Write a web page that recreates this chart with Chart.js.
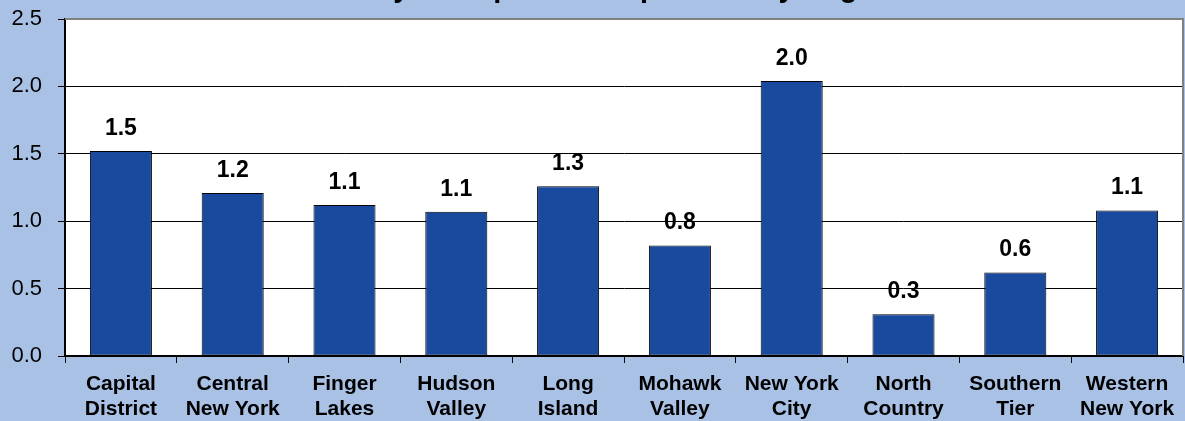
<!DOCTYPE html>
<html>
<head>
<meta charset="utf-8">
<script src="https://cdn.jsdelivr.net/npm/chart.js@4.4.1/dist/chart.umd.min.js"></script>
<style>
  html, body { margin: 0; padding: 0; background: #A9C1E5; overflow: hidden; }
  #wrap { position: relative; width: 1185px; height: 421px; }
</style>
</head>
<body>
<div id="wrap"><canvas id="c" width="1185" height="421"></canvas></div>
<script>
const chartTitle = "Industry Jobs per 100 Population by Region";
const categories = [
  ["Capital", "District"],
  ["Central", "New York"],
  ["Finger", "Lakes"],
  ["Hudson", "Valley"],
  ["Long", "Island"],
  ["Mohawk", "Valley"],
  ["New York", "City"],
  ["North", "Country"],
  ["Southern", "Tier"],
  ["Western", "New York"]
];
const values = [1.52, 1.21, 1.12, 1.07, 1.26, 0.82, 2.04, 0.31, 0.62, 1.08];
const yTicks = [0, 0.5, 1.0, 1.5, 2.0, 2.5];

const bgPlugin = {
  id: 'bg',
  beforeDraw(chart) {
    const { ctx, chartArea: a } = chart;
    ctx.save();
    ctx.fillStyle = '#A9C1E5';
    ctx.fillRect(0, 0, chart.width, chart.height);
    ctx.fillStyle = '#FFFFFF';
    ctx.fillRect(a.left, a.top, a.right - a.left, a.bottom - a.top);
    ctx.restore();
  },
  afterDatasetsDraw(chart) {
    const { ctx, chartArea: a } = chart;
    ctx.save();
    ctx.strokeStyle = '#808080';
    ctx.lineWidth = 2;
    ctx.beginPath();
    ctx.moveTo(a.left, a.top);
    ctx.lineTo(a.right, a.top);
    ctx.lineTo(a.right, a.bottom);
    ctx.stroke();
    // data labels
    const meta = chart.getDatasetMeta(0);
    ctx.fillStyle = '#000';
    ctx.font = 'bold 23px "Liberation Sans", Arial, sans-serif';
    ctx.textAlign = 'center';
    ctx.textBaseline = 'alphabetic';
    meta.data.forEach((bar, i) => {
      ctx.fillText(values[i].toFixed(1), bar.x, bar.y - 16);
    });
    // title (clipped at top, as in the original)
    ctx.font = 'bold 29px "Liberation Sans", Arial, sans-serif';
    ctx.fillText(chartTitle, 598, -3);
    ctx.restore();
  }
};

new Chart(document.getElementById('c'), {
  type: 'bar',
  data: {
    labels: categories,
    datasets: [{
      data: values,
      backgroundColor: '#1A4A9E',
      borderColor: '#000000',
      borderWidth: 1,
      borderSkipped: false,
      categoryPercentage: 1.0,
      barPercentage: 0.555
    }]
  },
  options: {
    responsive: false,
    animation: false,
    devicePixelRatio: 1,
    layout: { padding: { top: 19, right: 2, left: 0, bottom: 0 } },
    plugins: { legend: { display: false }, tooltip: { enabled: false }, title: { display: false } },
    scales: {
      x: {
        offset: true,
        grid: { display: true, drawOnChartArea: false, offset: true, color: '#000', tickLength: 7, lineWidth: 1 },
        border: { display: true, color: '#000', width: 2 },
        ticks: {
          color: '#000',
          padding: 8,
          maxRotation: 0,
          autoSkip: false,
          font: { family: '"Liberation Sans", Arial, sans-serif', size: 21, weight: 'bold', lineHeight: 1.22 }
        },
        afterFit(scale) { scale.height = 65; scale.paddingLeft = 0; scale.paddingRight = 0; }
      },
      y: {
        min: 0, max: 2.5,
        afterBuildTicks(scale) { scale.ticks = yTicks.map(v => ({ value: v })); },
        grid: {
          color: (c) => (c.tick && c.tick.value === 2.5) ? 'rgba(0,0,0,0)' : '#000',
          tickColor: '#000',
          tickLength: 7,
          lineWidth: 1
        },
        border: { display: true, color: '#000', width: 2 },
        ticks: {
          color: '#000',
          padding: 16,
          font: { family: '"Liberation Sans", Arial, sans-serif', size: 22 },
          callback: (v) => Number(v).toFixed(1)
        },
        afterFit(scale) { scale.width = 65; scale.paddingTop = 0; scale.paddingBottom = 0; }
      }
    }
  },
  plugins: [bgPlugin]
});
</script>
</body>
</html>
